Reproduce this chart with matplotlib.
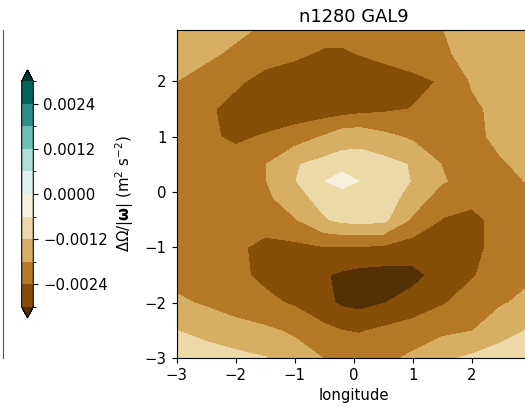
import numpy as np
import matplotlib
matplotlib.use("Agg")
import matplotlib.pyplot as plt
from matplotlib.colors import BoundaryNorm
from matplotlib.ticker import FuncFormatter
from matplotlib.lines import Line2D

# ---- data (field values in units of 1e-4) ----
lon = [-3, -2.5, -2, -1.5, -1, -0.5, -0.2, 0.1, 0.5, 1, 1.5, 2, 2.5, 3]
lat = [3, 2.5, 2, 1.5, 1, 0.5, 0.2, -0.1, -0.5, -1, -1.5, -2, -2.5, -3]  # top to bottom

field_rows = [
    [-13, -15, -16.5, -18.5, -20, -21, -21.5, -21.5, -20.5, -19.5, -18, -15, -14, -13.5],
    [-16.5, -17, -19, -21.5, -23, -24.8, -24.8, -23.8, -22.5, -21, -19, -16, -14, -13],
    [-18, -20, -23, -26, -27, -27.5, -27.5, -27.5, -27, -25.5, -23.5, -17.5, -15, -14],
    [-19.5, -23, -26, -27.5, -28, -27.5, -27, -26, -25, -23.8, -22, -19, -16.5, -15],
    [-20, -23, -25, -23.5, -21, -17.5, -14.5, -14, -16.5, -19, -20.5, -19.5, -16.5, -15],
    [-20.5, -21.5, -21.5, -18.2, -12.5, -10, -9.5, -9.5, -10, -12.5, -18.2, -20.5, -18.5, -16.5],
    [-21, -21.5, -21.5, -18.3, -12.3, -6.3, -2, -6.2, -9, -12.3, -17.5, -20.5, -19.5, -17.5],
    [-21, -21.5, -21.5, -19.5, -14, -10, -10.5, -9.5, -9, -14.5, -21, -22.5, -21, -19],
    [-21, -21.5, -22, -21.5, -18.5, -12.5, -10.5, -10, -10.5, -19, -24.3, -25.5, -22, -20],
    [-21, -21.5, -23, -25.5, -25.5, -24.3, -24.5, -24.5, -25, -27, -27, -25.5, -22, -20],
    [-20, -21, -22.5, -25.5, -27.5, -29.5, -31, -32, -32.5, -31.5, -28, -24.5, -21, -18.7],
    [-17, -18.7, -21, -22.5, -24.8, -28.5, -31, -32, -30.2, -28, -24.5, -21.5, -18.5, -16.5],
    [-12, -14, -15.5, -17, -19, -22.5, -24, -24.5, -23, -21, -19.5, -18.2, -14, -11.5],
    [-8, -9, -10.5, -11.8, -15, -18.2, -19.5, -20, -19.5, -17, -13, -11, -9.5, -9],
]
field_scale = 1e-4

levels = [-0.003, -0.0024, -0.0018, -0.0012, -0.0006, 0.0, 0.0006, 0.0012, 0.0018, 0.0024, 0.003]
cbar_ticks = [-0.0024, -0.0012, 0.0, 0.0012, 0.0024]
x_ticks = [-3, -2, -1, 0, 1, 2]
y_ticks = [-3, -2, -1, 0, 1, 2]
title = "n1280 GAL9"
xlabel = "longitude"
cbar_label = r"$\Delta\Omega/|\mathbf{\omega}|$ (m$^2$ s$^{-2}$)"

# ---- figure ----
W, H = 525, 407
fig = plt.figure(figsize=(W / 100, H / 100), dpi=100)

ax = fig.add_axes([176.5 / W, 49 / H, (531 - 176.5) / W, 328 / H])
Z = np.array(field_rows)[::-1] * field_scale
LAT = np.array(lat)[::-1]
cmap = plt.get_cmap("BrBG")
norm = BoundaryNorm(levels, ncolors=cmap.N, extend="both")
cs = ax.contourf(lon, LAT, Z, levels=levels, cmap=cmap, norm=norm, extend="both")
ax.set_xlim(-3, 3)
ax.set_ylim(-3, 2.93)
ax.set_xticks(x_ticks)
ax.set_yticks(y_ticks)
ax.tick_params(labelsize=10.7)
ax.set_xlabel(xlabel, fontsize=10.7)
ax.set_title(title, fontsize=12.9, pad=6)

cax = fig.add_axes([21.7 / W, (H - 318) / H, 11.6 / W, 248 / H])
cb = fig.colorbar(cs, cax=cax, orientation="vertical", extend="both")
cb.set_ticks(cbar_ticks)
cb.ax.yaxis.set_major_formatter(
    FuncFormatter(lambda v, p: f"{v:.4f}".replace("-", "\u2212") if abs(v) > 1e-9 else "0.0000"))
cb.ax.tick_params(labelsize=10.7)
cb.set_label(cbar_label, fontsize=10.7, labelpad=4)

# edge of neighbouring panel at far left
fig.add_artist(Line2D([2.5 / W, 2.5 / W], [49 / H, (H - 30) / H], color="0.35", lw=0.8))

fig.savefig("out.png", dpi=100)
